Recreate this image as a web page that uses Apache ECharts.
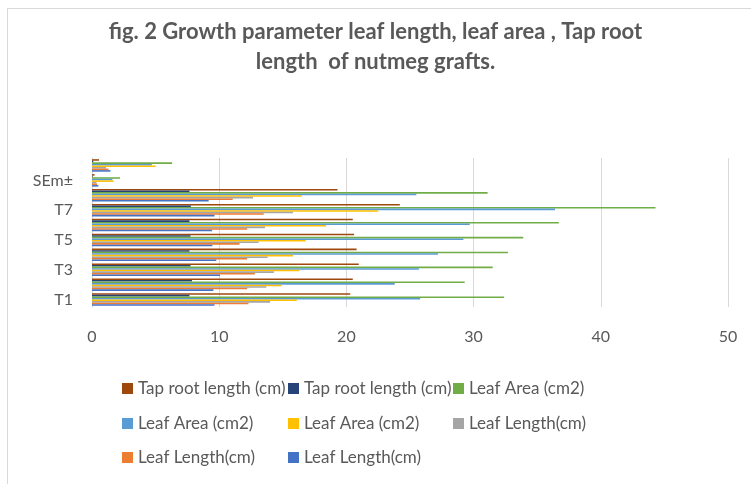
<!DOCTYPE html>
<html>
<head>
<meta charset="utf-8">
<script src="https://cdn.jsdelivr.net/npm/echarts@6/dist/echarts.min.js"></script>
<style>
    html, body { margin: 0; padding: 0; background: #fff; }
    #frame { position: absolute; left: 7px; top: 8px; width: 760px; height: 490px; border: 1px solid #d9d9d9; }
    #chart { position: absolute; left: 0; top: 0; width: 751px; height: 484px; }
</style>
</head>
<body>
<div id="frame"></div>
<div id="chart"></div>
<script type="text/javascript">
    // categories, bottom to top
    var categories = ['T1', 'T2', 'T3', 'T4', 'T5', 'T6', 'T7', 'T8', 'SEm±', 'CD (0.05)'];
    var xTicks = [0, 10, 20, 30, 40, 50];

    // series values
    var tapRoot2 = [20.3, 20.5, 20.97, 20.8, 20.6, 20.5, 24.2, 19.3, 0.2, 0.55];
    var tapRoot1 = [7.66, 7.86, 7.74, 7.66, 7.74, 7.66, 7.77, 7.66, 0.05, 0.1];
    var leafArea3 = [32.4, 29.3, 31.5, 32.7, 33.9, 36.7, 44.3, 31.1, 2.2, 6.3];
    var leafArea2 = [25.8, 23.8, 25.7, 27.2, 29.2, 29.7, 36.4, 25.5, 1.6, 4.7];
    var leafArea1 = [16.1, 14.9, 16.3, 15.8, 16.8, 18.4, 22.5, 16.5, 1.7, 5.0];
    var leafLength3 = [14.0, 13.7, 14.3, 13.8, 13.1, 13.6, 15.8, 12.66, 0.35, 1.1];
    var leafLength2 = [12.3, 12.2, 12.8, 12.2, 11.6, 12.2, 13.5, 11.06, 0.4, 1.3];
    var leafLength1 = [9.63, 9.54, 10.06, 9.77, 9.46, 9.43, 9.63, 9.17, 0.5, 1.45];

    var seriesNames = ['Tap root length (cm) #1', 'Tap root length (cm) #2', 'Leaf Area (cm2) #1',
        'Leaf Area (cm2) #2', 'Leaf Area (cm2) #3', 'Leaf Length(cm) #1', 'Leaf Length(cm) #2', 'Leaf Length(cm) #3'];
    var seriesData = [tapRoot2, tapRoot1, leafArea3, leafArea2, leafArea1, leafLength3, leafLength2, leafLength1];
    var colors = ['#9E480E', '#264478', '#70AD47', '#5B9BD5', '#FFC000', '#A5A5A5', '#ED7D31', '#4472C4'];

    // legend slots (left, top)
    var legendPos = [[122, 380], [288, 380], [453, 380], [122, 415], [288, 415], [453, 415], [122, 449], [288, 449]];

    var font = 'Lato, "Open Sans", sans-serif';
    var myChart = echarts.init(document.getElementById('chart'));

    var series = [];
    var legends = [];
    for (var i = 0; i < seriesNames.length; i++) {
        series.push({
            name: seriesNames[i],
            type: 'bar',
            data: seriesData[i],
            barGap: '0%',
            barCategoryGap: '16%',
            itemStyle: { color: colors[i] }
        });
        legends.push({
            data: [seriesNames[i]],
            left: legendPos[i][0],
            top: legendPos[i][1],
            padding: 0,
            icon: 'rect',
            itemWidth: 11,
            itemHeight: 11,
            selectedMode: false,
            formatter: function (name) { return name.replace(/ #\d$/, ''); },
            textStyle: { color: '#595959', fontSize: 17, fontFamily: font }
        });
    }

    var option = {
        animation: false,
        color: colors,
        title: {
            text: 'fig. 2 Growth parameter leaf length, leaf area , Tap root\nlength  of nutmeg grafts.',
            left: 'center',
            top: 12,
            textStyle: { color: '#595959', fontSize: 22, fontWeight: 'bold', fontFamily: font, lineHeight: 30 }
        },
        legend: legends,
        grid: { left: 92, right: 23, top: 158, bottom: 177, containLabel: false },
        xAxis: {
            type: 'value',
            min: xTicks[0],
            max: xTicks[xTicks.length - 1],
            interval: 10,
            axisLine: { show: false },
            axisTick: { show: false },
            axisLabel: { color: '#595959', fontSize: 16, fontFamily: font, margin: 22 },
            splitLine: { lineStyle: { color: '#d9d9d9', width: 1 } }
        },
        yAxis: {
            type: 'category',
            data: categories,
            axisLine: { show: true, lineStyle: { color: '#d9d9d9' } },
            axisTick: { show: false },
            axisLabel: { color: '#595959', fontSize: 16, fontFamily: font, margin: 19, interval: 1 }
        },
        series: series
    };

    myChart.setOption(option, true);
</script>
</body>
</html>
